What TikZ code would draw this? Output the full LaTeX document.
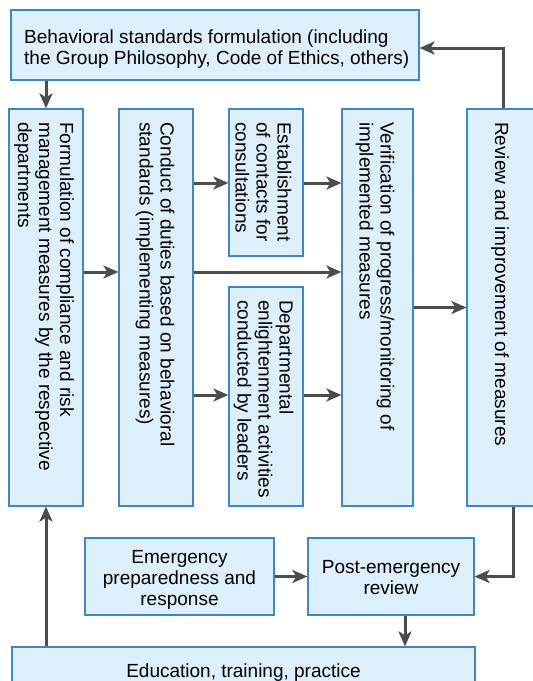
\documentclass[tikz,border=0pt]{standalone}
\usepackage{fontspec}
\setmainfont{Liberation Sans}
\usetikzlibrary{arrows.meta}
\definecolor{boxfill}{HTML}{DDEFFB}
\definecolor{boxline}{HTML}{3D87C4}
\definecolor{arr}{HTML}{4D4B4C}
\begin{document}
\begin{tikzpicture}[x=1pt,y=-1pt,
  box/.style={draw=boxline, fill=boxfill, line width=1.2pt, inner sep=0pt},
  txt/.style={inner sep=0pt, font=\fontsize{19}{21}\selectfont},
  vtext/.style={txt, rotate=-90, anchor=west, align=left},
  conn/.style={draw=arr, line width=3pt, -{Stealth[length=15pt,width=13pt,inset=4pt]}}]
\useasboundingbox (0,0) rectangle (533,681);
% boxes
\node[box, minimum width=408, minimum height=70] (top) at (215,45) {};
\node[box, minimum width=74, minimum height=397] (c1) at (46,307.5) {};
\node[box, minimum width=74, minimum height=397] (c2) at (156,307.5) {};
\node[box, minimum width=74, minimum height=147] (c3a) at (266,182.5) {};
\node[box, minimum width=74, minimum height=219] (c3b) at (266,396.5) {};
\node[box, minimum width=71, minimum height=397] (c4) at (377.5,307.5) {};
\node[box, minimum width=73, minimum height=397] (c5) at (503.5,307.5) {};
\node[box, minimum width=189, minimum height=77] (em) at (179.5,576.5) {};
\node[box, minimum width=166, minimum height=77] (post) at (391,576.5) {};
\node[box, minimum width=463, minimum height=60] (edu) at (243.5,677) {};
% texts
\node[txt, anchor=north west, align=left] (ttop) at (24,30) {Behavioral standards formulation (including\\the Group Philosophy, Code of Ethics, others)};
\node[vtext] (t1) at (44,122) {Formulation of compliance and risk\\management measures by the respective\\departments};
\node[vtext] (t2) at (155,122) {Conduct of duties based on behavioral\\standards (implementing measures)};
\node[vtext] (t3a) at (263.5,122) {Establishment\\of contacts for\\consultations};
\node[vtext] (t3b) at (263.5,300) {Departmental\\enlightenment activities\\conducted by leaders};
\node[vtext] (t4) at (375,122) {Verification of progress/monitoring of\\implemented measures};
\node[vtext] (t5) at (500,122) {Review and improvement of measures};
\node[txt, anchor=north, align=center] (tem) at (179.5,550.3) {Emergency\\preparedness and\\response};
\node[txt, anchor=north, align=center] (tpost) at (391,560.5) {Post-emergency\\review};
\node[txt, anchor=base] (tedu) at (243.5,677) {Education, training, practice};
% connectors
\draw[conn] (top.south -| c1.north) -- (c1.north);
\draw[conn] (c1.east |- 0,272) -- (c2.west |- 0,272);
\draw[conn] (c2.east |- 0,272) -- (c4.west |- 0,272);
\draw[conn] (c2.east |- 0,183) -- (c3a.west |- 0,183);
\draw[conn] (c3a.east |- 0,183) -- (c4.west |- 0,183);
\draw[conn] (c2.east |- 0,395) -- (c3b.west |- 0,395);
\draw[conn] (c3b.east |- 0,395) -- (c4.west |- 0,395);
\draw[conn] (c4.east) -- (c5.west);
\draw[conn] (c5.north) -- (c5.north |- 0,48) -- (top.east |- 0,48);
\draw[conn] (c5.south -| 513,0) -- (513,576.5) -- (post.east);
\draw[conn] (em.east) -- (post.west);
\draw[conn] (post.south -| 405,0) -- (edu.north -| 405,0);
\draw[conn] (edu.north -| c1.south) -- (c1.south);
\end{tikzpicture}
\end{document}
